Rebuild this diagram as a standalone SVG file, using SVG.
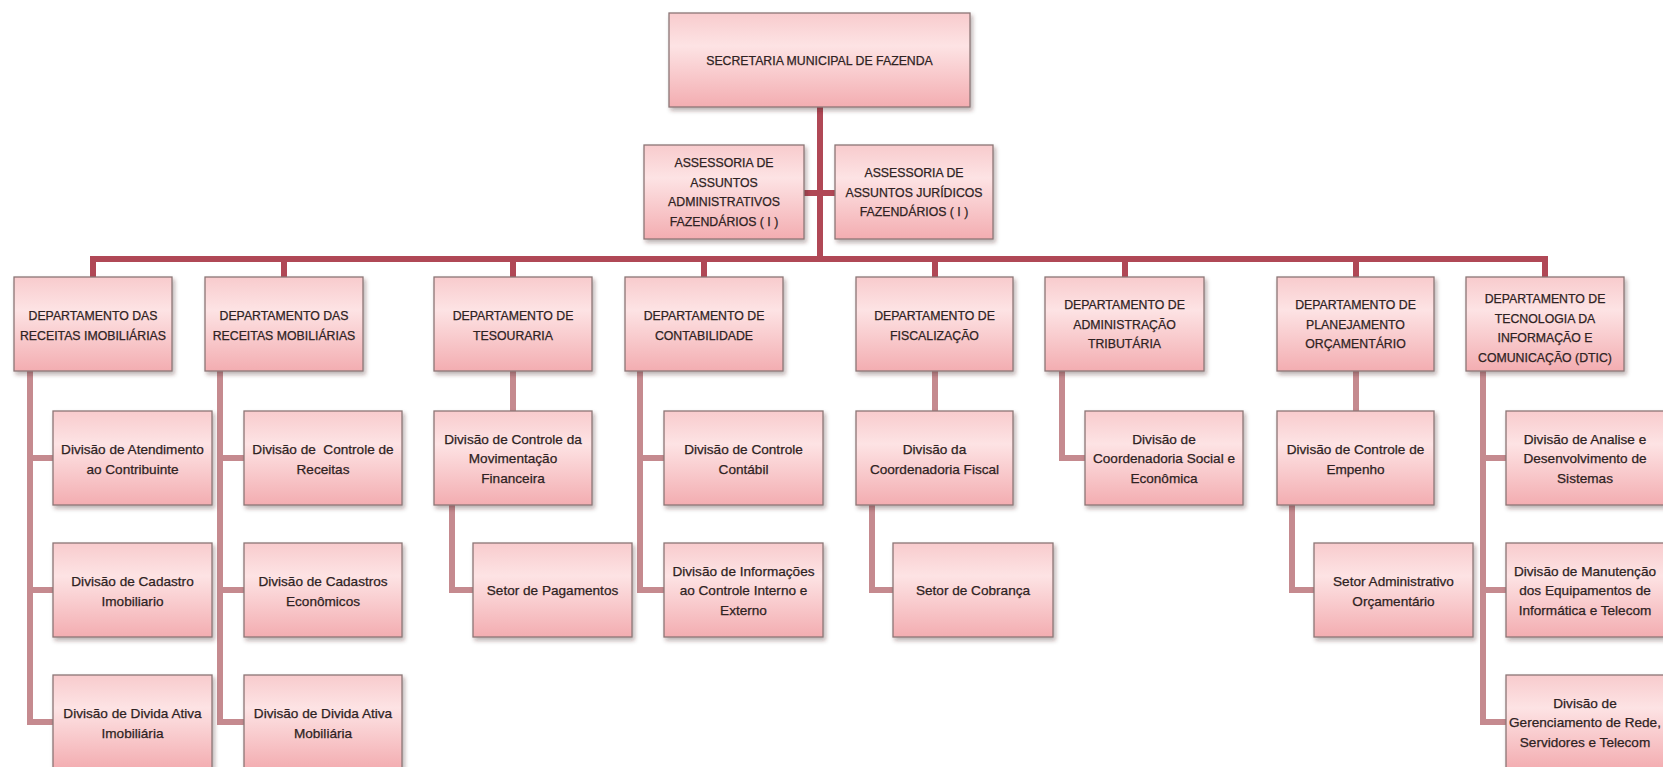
<svg xmlns="http://www.w3.org/2000/svg" width="1663" height="767" viewBox="0 0 1663 767">
  <defs>
    <linearGradient id="boxFill" x1="0" y1="0" x2="0" y2="1">
      <stop offset="0" stop-color="#f8cbcd"/>
      <stop offset="0.35" stop-color="#fde3e4"/>
      <stop offset="1" stop-color="#f3adb1"/>
    </linearGradient>
    <filter id="shadow" x="-10%" y="-10%" width="125%" height="130%">
      <feDropShadow dx="2" dy="3" stdDeviation="2" flood-color="#3a2020" flood-opacity="0.35"/>
    </filter>
  </defs>
  <style>
    .box { fill: url(#boxFill); stroke: #8c7676; stroke-width: 1.3; filter: url(#shadow); }
    .cap, .txt { font-family: "Liberation Sans", Arial, sans-serif; fill: #2e2222; stroke: #2e2222; stroke-width: 0.25; text-anchor: middle; dominant-baseline: central; }
    .cap { font-size: 12.3px; }
    .txt { font-size: 13.6px; }
    .main { fill: none; stroke: #b04856; stroke-width: 6; stroke-linejoin: miter; }
    .sub { fill: none; stroke: #c58a8f; stroke-width: 6; stroke-linejoin: miter; }
  </style>
  <rect width="1663" height="767" fill="#ffffff"/>

  <!-- connectors -->
  <g id="connectors">
    <path class="main" d="M820 107 V259"/>
    <path class="main" d="M804 193 H835"/>
    <path class="main" d="M93 277 V259 H1545 V277"/>
    <path class="main" d="M284 259 V277 M513 259 V277 M704 259 V277 M935 259 V277 M1125 259 V277 M1356 259 V277"/>
    <path class="sub" d="M30 371 V722 H53 M30 458 H53 M30 590 H53"/>
    <path class="sub" d="M220 371 V722 H244 M220 458 H244 M220 590 H244"/>
    <path class="sub" d="M513 371 V411"/>
    <path class="sub" d="M452 505 V590 H473"/>
    <path class="sub" d="M640 371 V590 H664 M640 458 H664"/>
    <path class="sub" d="M935 371 V411"/>
    <path class="sub" d="M872 505 V590 H893"/>
    <path class="sub" d="M1062 371 V458 H1085"/>
    <path class="sub" d="M1356 371 V411"/>
    <path class="sub" d="M1292 505 V590 H1314"/>
    <path class="sub" d="M1483 371 V722 H1506 M1483 458 H1506 M1483 590 H1506"/>
  </g>

  <!-- top level -->
  <g id="secretaria">
    <rect class="box" x="669" y="13" width="301" height="94"/>
    <text class="cap"><tspan x="819.5" y="61">SECRETARIA MUNICIPAL DE FAZENDA</tspan></text>
  </g>
  <g id="assessoria-administrativos">
    <rect class="box" x="644" y="145" width="160" height="94"/>
    <text class="cap"><tspan x="724" y="163">ASSESSORIA DE</tspan><tspan x="724" y="182.5">ASSUNTOS</tspan><tspan x="724" y="202">ADMINISTRATIVOS</tspan><tspan x="724" y="221.5">FAZENDÁRIOS ( I )</tspan></text>
  </g>
  <g id="assessoria-juridicos">
    <rect class="box" x="835" y="145" width="158" height="94"/>
    <text class="cap"><tspan x="914" y="173">ASSESSORIA DE</tspan><tspan x="914" y="192.5">ASSUNTOS JURÍDICOS</tspan><tspan x="914" y="212">FAZENDÁRIOS ( I )</tspan></text>
  </g>

  <!-- departments -->
  <g id="dep-imobiliarias">
    <rect class="box" x="14" y="277" width="158" height="94"/>
    <text class="cap"><tspan x="93" y="316">DEPARTAMENTO DAS</tspan><tspan x="93" y="335.5">RECEITAS IMOBILIÁRIAS</tspan></text>
  </g>
  <g id="dep-mobiliarias">
    <rect class="box" x="205" y="277" width="158" height="94"/>
    <text class="cap"><tspan x="284" y="316">DEPARTAMENTO DAS</tspan><tspan x="284" y="335.5">RECEITAS MOBILIÁRIAS</tspan></text>
  </g>
  <g id="dep-tesouraria">
    <rect class="box" x="434" y="277" width="158" height="94"/>
    <text class="cap"><tspan x="513" y="316">DEPARTAMENTO DE</tspan><tspan x="513" y="335.5">TESOURARIA</tspan></text>
  </g>
  <g id="dep-contabilidade">
    <rect class="box" x="625" y="277" width="158" height="94"/>
    <text class="cap"><tspan x="704" y="316">DEPARTAMENTO DE</tspan><tspan x="704" y="335.5">CONTABILIDADE</tspan></text>
  </g>
  <g id="dep-fiscalizacao">
    <rect class="box" x="856" y="277" width="157" height="94"/>
    <text class="cap"><tspan x="934.5" y="316">DEPARTAMENTO DE</tspan><tspan x="934.5" y="335.5">FISCALIZAÇÃO</tspan></text>
  </g>
  <g id="dep-adm-tributaria">
    <rect class="box" x="1045" y="277" width="159" height="94"/>
    <text class="cap"><tspan x="1124.5" y="305">DEPARTAMENTO DE</tspan><tspan x="1124.5" y="324.5">ADMINISTRAÇÃO</tspan><tspan x="1124.5" y="344">TRIBUTÁRIA</tspan></text>
  </g>
  <g id="dep-planejamento">
    <rect class="box" x="1277" y="277" width="157" height="94"/>
    <text class="cap"><tspan x="1355.5" y="305">DEPARTAMENTO DE</tspan><tspan x="1355.5" y="324.5">PLANEJAMENTO</tspan><tspan x="1355.5" y="344">ORÇAMENTÁRIO</tspan></text>
  </g>
  <g id="dep-dtic">
    <rect class="box" x="1466" y="277" width="158" height="94"/>
    <text class="cap"><tspan x="1545" y="299">DEPARTAMENTO DE</tspan><tspan x="1545" y="318.5">TECNOLOGIA DA</tspan><tspan x="1545" y="338">INFORMAÇÃO E</tspan><tspan x="1545" y="357.5">COMUNICAÇÃO (DTIC)</tspan></text>
  </g>

  <!-- Receitas Imobiliárias -->
  <g id="div-atendimento">
    <rect class="box" x="53" y="411" width="159" height="94"/>
    <text class="txt"><tspan x="132.5" y="449">Divisão de Atendimento</tspan><tspan x="132.5" y="468.5">ao Contribuinte</tspan></text>
  </g>
  <g id="div-cadastro-imobiliario">
    <rect class="box" x="53" y="543" width="159" height="94"/>
    <text class="txt"><tspan x="132.5" y="581">Divisão de Cadastro</tspan><tspan x="132.5" y="600.5">Imobiliario</tspan></text>
  </g>
  <g id="div-divida-imobiliaria">
    <rect class="box" x="53" y="675" width="159" height="94"/>
    <text class="txt"><tspan x="132.5" y="713">Divisão de Divida Ativa</tspan><tspan x="132.5" y="732.5">Imobiliária</tspan></text>
  </g>

  <!-- Receitas Mobiliárias -->
  <g id="div-controle-receitas">
    <rect class="box" x="244" y="411" width="158" height="94"/>
    <text class="txt" style="white-space:pre"><tspan x="323" y="449">Divisão de  Controle de</tspan><tspan x="323" y="468.5">Receitas</tspan></text>
  </g>
  <g id="div-cadastros-economicos">
    <rect class="box" x="244" y="543" width="158" height="94"/>
    <text class="txt"><tspan x="323" y="581">Divisão de Cadastros</tspan><tspan x="323" y="600.5">Econômicos</tspan></text>
  </g>
  <g id="div-divida-mobiliaria">
    <rect class="box" x="244" y="675" width="158" height="94"/>
    <text class="txt"><tspan x="323" y="713">Divisão de Divida Ativa</tspan><tspan x="323" y="732.5">Mobiliária</tspan></text>
  </g>

  <!-- Tesouraria -->
  <g id="div-movimentacao">
    <rect class="box" x="434" y="411" width="158" height="94"/>
    <text class="txt"><tspan x="513" y="438.5">Divisão de Controle da</tspan><tspan x="513" y="458">Movimentação</tspan><tspan x="513" y="477.5">Financeira</tspan></text>
  </g>
  <g id="setor-pagamentos">
    <rect class="box" x="473" y="543" width="159" height="94"/>
    <text class="txt"><tspan x="552.5" y="590">Setor de Pagamentos</tspan></text>
  </g>

  <!-- Contabilidade -->
  <g id="div-controle-contabil">
    <rect class="box" x="664" y="411" width="159" height="94"/>
    <text class="txt"><tspan x="743.5" y="449">Divisão de Controle</tspan><tspan x="743.5" y="468.5">Contábil</tspan></text>
  </g>
  <g id="div-informacoes">
    <rect class="box" x="664" y="543" width="159" height="94"/>
    <text class="txt"><tspan x="743.5" y="570.5">Divisão de Informações</tspan><tspan x="743.5" y="590">ao Controle Interno e</tspan><tspan x="743.5" y="609.5">Externo</tspan></text>
  </g>

  <!-- Fiscalização -->
  <g id="div-coord-fiscal">
    <rect class="box" x="856" y="411" width="157" height="94"/>
    <text class="txt"><tspan x="934.5" y="449">Divisão da</tspan><tspan x="934.5" y="468.5">Coordenadoria Fiscal</tspan></text>
  </g>
  <g id="setor-cobranca">
    <rect class="box" x="893" y="543" width="160" height="94"/>
    <text class="txt"><tspan x="973" y="590">Setor de Cobrança</tspan></text>
  </g>

  <!-- Administração Tributária -->
  <g id="div-coord-social">
    <rect class="box" x="1085" y="411" width="158" height="94"/>
    <text class="txt"><tspan x="1164" y="438.5">Divisão de</tspan><tspan x="1164" y="458">Coordenadoria Social e</tspan><tspan x="1164" y="477.5">Econômica</tspan></text>
  </g>

  <!-- Planejamento Orçamentário -->
  <g id="div-empenho">
    <rect class="box" x="1277" y="411" width="157" height="94"/>
    <text class="txt"><tspan x="1355.5" y="449">Divisão de Controle de</tspan><tspan x="1355.5" y="468.5">Empenho</tspan></text>
  </g>
  <g id="setor-adm-orcamentario">
    <rect class="box" x="1314" y="543" width="159" height="94"/>
    <text class="txt"><tspan x="1393.5" y="581">Setor Administrativo</tspan><tspan x="1393.5" y="600.5">Orçamentário</tspan></text>
  </g>

  <!-- DTIC -->
  <g id="div-sistemas">
    <rect class="box" x="1506" y="411" width="158" height="94"/>
    <text class="txt"><tspan x="1585" y="438.5">Divisão de Analise e</tspan><tspan x="1585" y="458">Desenvolvimento de</tspan><tspan x="1585" y="477.5">Sistemas</tspan></text>
  </g>
  <g id="div-manutencao">
    <rect class="box" x="1506" y="543" width="158" height="94"/>
    <text class="txt"><tspan x="1585" y="570.5">Divisão de Manutenção</tspan><tspan x="1585" y="590">dos Equipamentos de</tspan><tspan x="1585" y="609.5">Informática e Telecom</tspan></text>
  </g>
  <g id="div-redes">
    <rect class="box" x="1506" y="675" width="158" height="94"/>
    <text class="txt"><tspan x="1585" y="702.5">Divisão de</tspan><tspan x="1585" y="722">Gerenciamento de Rede,</tspan><tspan x="1585" y="741.5">Servidores e Telecom</tspan></text>
  </g>
</svg>
